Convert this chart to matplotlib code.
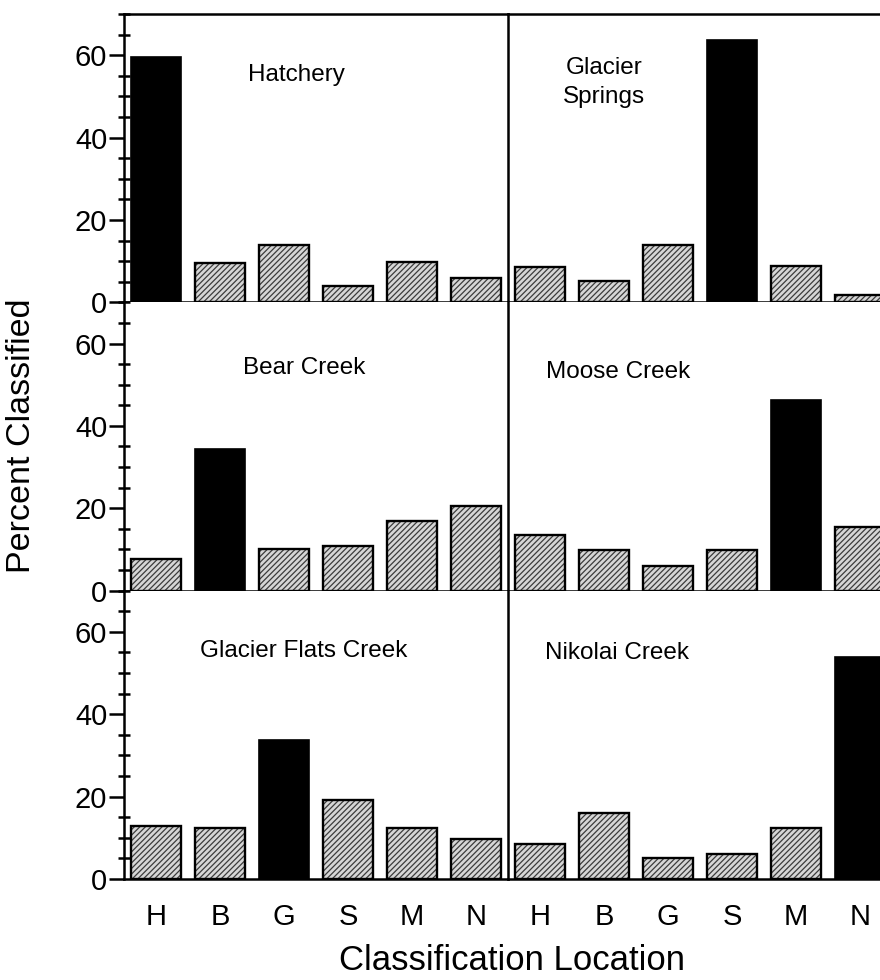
import matplotlib.pyplot as plt
from matplotlib.ticker import MultipleLocator

plt.rcParams['font.family'] = ['Liberation Sans', 'DejaVu Sans']
plt.rcParams['hatch.linewidth'] = 0.9

codes = ['H', 'B', 'G', 'S', 'M', 'N']

# panel order: row by row, left then right
sites = ['Hatchery', 'Glacier\nSprings', 'Bear Creek', 'Moose Creek',
         'Glacier Flats Creek', 'Nikolai Creek']
home = ['H', 'S', 'B', 'M', 'G', 'N']

hatchery = [59.5, 9.6, 13.9, 3.9, 9.7, 5.8]
glacier_springs = [8.5, 5.3, 13.8, 63.7, 8.7, 1.9]
bear_creek = [7.7, 34.4, 10.2, 10.9, 17.0, 20.6]
moose_creek = [13.5, 9.8, 6.1, 9.8, 46.4, 15.4]
glacier_flats = [12.9, 12.3, 33.7, 19.3, 12.3, 9.8]
nikolai_creek = [8.6, 16.1, 5.1, 6.0, 12.4, 53.8]

values = [hatchery, glacier_springs, bear_creek, moose_creek,
          glacier_flats, nikolai_creek]

# title placement inside each panel (axes fraction)
title_xy = [(0.45, 0.788), (0.25, 0.762), (0.469, 0.771),
            (0.286, 0.757), (0.469, 0.792), (0.284, 0.785)]

fig = plt.figure(figsize=(8.8, 9.8), dpi=100)

left = 124 / 880
colw = 384 / 880
top = 14 / 980
rowh = (879 - 14) / 3 / 980

x = list(range(len(codes)))
for i in range(6):
    r, c = divmod(i, 2)
    ax = fig.add_axes([left + c * colw, 1 - top - (r + 1) * rowh, colw, rowh])
    vals = values[i]
    h = codes.index(home[i])
    others = [j for j in x if j != h]
    # textured bars: hatch layer first, then a black outline on top
    ax.bar([x[j] for j in others], [vals[j] for j in others], width=0.78,
           color='#d6d6d6', edgecolor='#3c3c3c', hatch='//////', linewidth=0,
           zorder=2)
    ax.bar([x[j] for j in others], [vals[j] for j in others], width=0.78,
           fill=False, edgecolor='black', linewidth=1.7, zorder=3)
    ax.bar(x[h], vals[h], width=0.78, color='black', edgecolor='black',
           linewidth=1.2, zorder=3)

    ax.set_xlim(-0.5, 5.5)
    ax.set_ylim(0, 70)
    for s in ax.spines.values():
        s.set_linewidth(1.8)
    ax.spines['right'].set_visible(False)
    if r > 0:
        ax.spines['top'].set_visible(False)

    ax.text(*title_xy[i], sites[i], transform=ax.transAxes, ha='center',
            va='center', fontsize=17.5, multialignment='center',
            linespacing=1.4)

    if c == 0:
        ax.yaxis.set_minor_locator(MultipleLocator(5))
        ax.set_yticks([0, 20, 40, 60])
        ax.tick_params(axis='y', which='major', direction='out', length=11,
                       width=1.8, labelsize=21, pad=1)
        ax.tick_params(axis='y', which='minor', direction='inout', length=9,
                       width=1.8)
    else:
        ax.set_yticks([])
        ax.tick_params(axis='y', which='minor', left=False)

    if r == 2:
        ax.set_xticks(x)
        ax.set_xticklabels(codes)
        ax.tick_params(axis='x', length=0, labelsize=21, pad=17)
    else:
        ax.set_xticks([])

fig.text(0.582, 0.02, 'Classification Location', ha='center', va='center',
         fontsize=25)
fig.text(0.025, 0.555, 'Percent Classified', ha='center', va='center',
         rotation=90, fontsize=24.5)

fig.savefig('out.png', dpi=100)
